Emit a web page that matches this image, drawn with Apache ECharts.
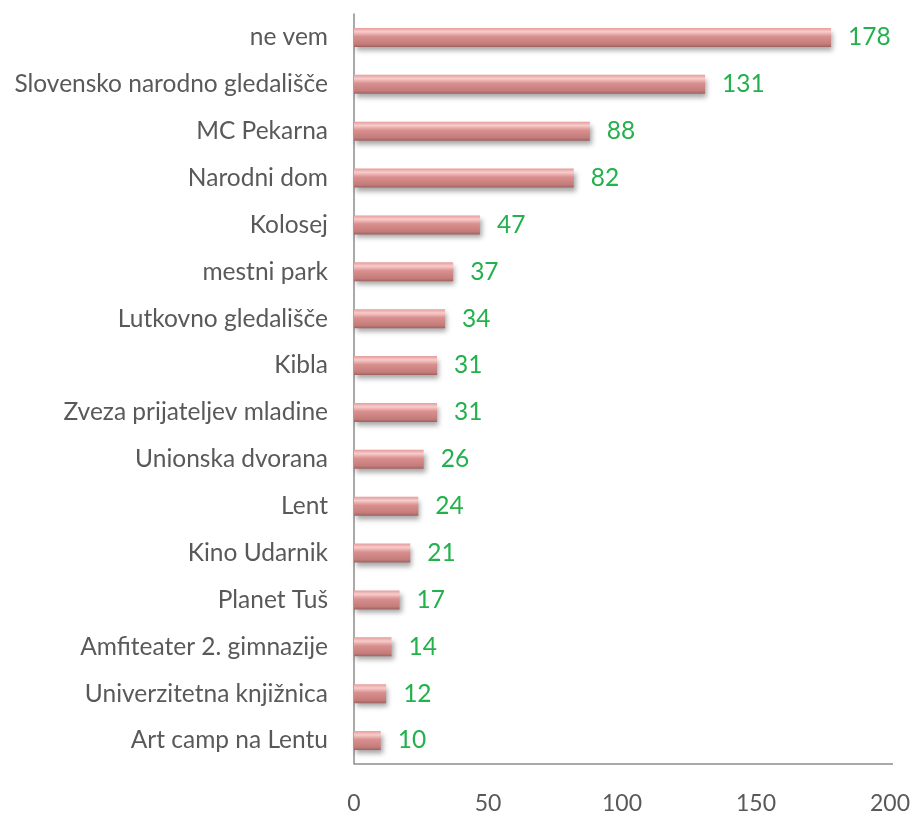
<!DOCTYPE html>
<html>
<head>
  <meta charset="UTF-8">
  <script src="https://cdn.jsdelivr.net/npm/echarts@6/dist/echarts.min.js"></script>
  <style>
    html, body { margin: 0; padding: 0; background: #fff; }
    #chart { width: 915px; height: 817px; }
  </style>
</head>
<body>
  <div id="chart"></div>
  <script>
    var venues = ['ne vem', 'Slovensko narodno gledališče', 'MC Pekarna', 'Narodni dom', 'Kolosej',
      'mestni park', 'Lutkovno gledališče', 'Kibla', 'Zveza prijateljev mladine', 'Unionska dvorana',
      'Lent', 'Kino Udarnik', 'Planet Tuš', 'Amfiteater 2. gimnazije', 'Univerzitetna knjižnica',
      'Art camp na Lentu'];
    var counts = [178, 131, 88, 82, 47, 37, 34, 31, 31, 26, 24, 21, 17, 14, 12, 10];

    var chart = echarts.init(document.getElementById('chart'));
    chart.setOption({
      animation: false,
      grid: { left: 354, right: 25, top: 14, bottom: 53 },
      xAxis: {
        type: 'value',
        min: 0, max: 200, interval: 50,
        axisLine: { show: false },
        axisTick: { show: false },
        splitLine: { show: false },
        axisLabel: { color: '#595959', fontSize: 23, fontFamily: 'Lato', margin: 28 }
      },
      yAxis: {
        type: 'category',
        data: venues,
        inverse: true,
        axisLine: { show: true, lineStyle: { color: '#8c8c8c', width: 1.5 } },
        axisTick: { show: false },
        axisLabel: { color: '#595959', fontSize: 24.5, fontFamily: 'Lato', margin: 26 }
      },
      series: [{
        type: 'bar',
        data: counts,
        barWidth: 19,
        itemStyle: {
          color: new echarts.graphic.LinearGradient(0, 0, 0, 1, [
            { offset: 0, color: '#e39c9b' },
            { offset: 0.2, color: '#f8cccb' },
            { offset: 0.45, color: '#d88f8e' },
            { offset: 0.85, color: '#c47c7b' },
            { offset: 1, color: '#9d6160' }
          ]),
          shadowColor: 'rgba(0,0,0,0.35)',
          shadowBlur: 5,
          shadowOffsetX: 2,
          shadowOffsetY: 4
        },
        label: {
          show: true,
          position: 'right',
          distance: 17,
          color: '#22b14c',
          fontSize: 24.5,
          fontFamily: 'Lato'
        }
      }],
      graphic: [{
        type: 'line',
        shape: { x1: 354, y1: 764, x2: 893, y2: 764 },
        style: { stroke: '#8c8c8c', lineWidth: 1.5 }
      }]
    });
  </script>
</body>
</html>
